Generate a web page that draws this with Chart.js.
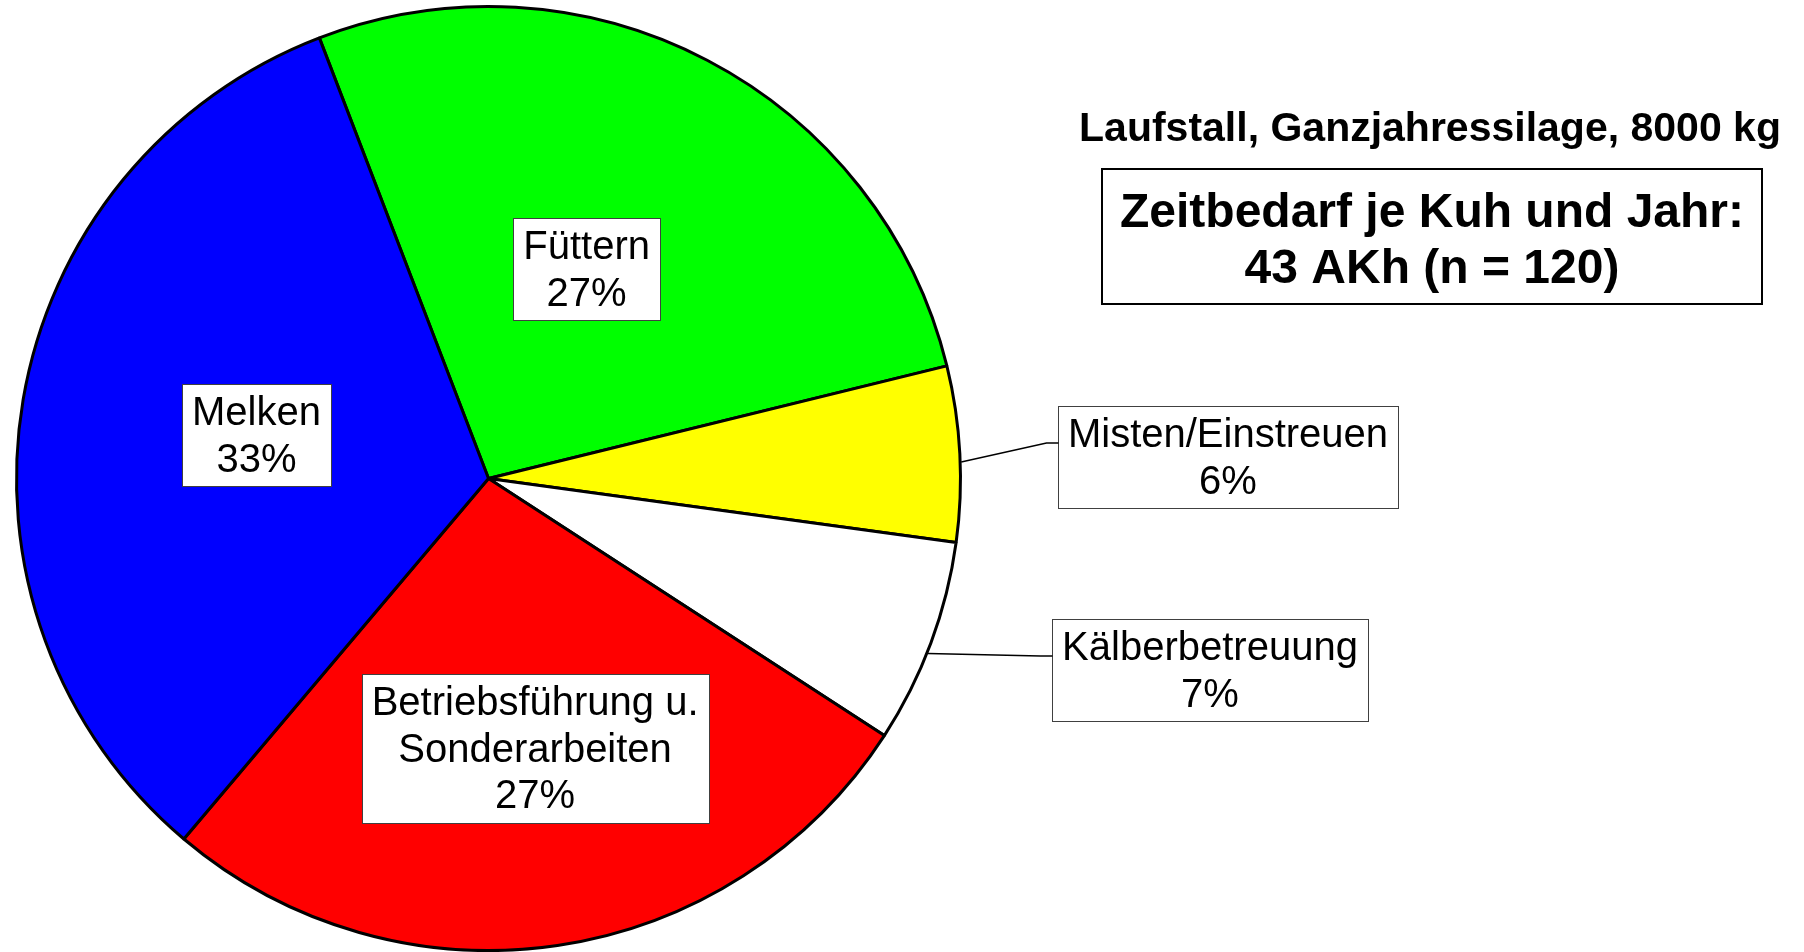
<!DOCTYPE html>
<html>
<head>
<meta charset="UTF-8">
<title>Zeitbedarf Milchviehhaltung</title>
<script src="https://cdn.jsdelivr.net/npm/chart.js@4.4.1/dist/chart.umd.min.js"></script>
<style>
	html, body {
		margin: 0;
		padding: 0;
		background: #ffffff;
		overflow: hidden;
	}
	#container {
		width: 1804px;
		height: 952px;
	}
</style>
</head>
<body>
	<div id="container">
		<canvas id="piecanvas"></canvas>
	</div>
<script>

// Arbeitsbereiche und Anteile in Prozent
var categories = ['Füttern', 'Misten/Einstreuen', 'Kälberbetreuung', ['Betriebsführung u.', 'Sonderarbeiten'], 'Melken'];
var shares = [27, 6, 7, 27, 33];
var sliceColors = ['#00ff00', '#ffff00', '#ffffff', '#ff0000', '#0000ff'];

var titleText = 'Laufstall, Ganzjahressilage, 8000 kg';
var infoLines = ['Zeitbedarf je Kuh und Jahr:', '43 AKh (n = 120)'];

// Beschriftung: innen auf der Segmentmitte (Anteil des Radius, kleine Drehung in Grad),
// außen als Kasten mit Verbindungslinie vom Kreisrand
var labelPlacement = [
	{inside: true, dist: 0.49, turn: -2.5},
	{inside: false, x: 1228, y: 457, turn: 1},
	{inside: false, x: 1210, y: 670, turn: 1.3},
	{inside: true, dist: 0.58, turn: -1.4},
	{inside: true, dist: 0.50, turn: 1}
];

var LABEL_FONT = '40px "Liberation Sans", Arial, sans-serif';
var LINE_H = 46.5;

function labelLines(i) {
	var name = categories[i];
	var lines = Array.isArray(name) ? name.slice() : [name];
	lines.push(shares[i] + '%');
	return lines;
}

function drawBox(ctx, cx, cy, lines) {
	ctx.font = LABEL_FONT;
	var w = 0;
	lines.forEach(function(t) { w = Math.max(w, ctx.measureText(t).width); });
	var bw = Math.round(w + 20);
	var bh = Math.round(lines.length * LINE_H + 9);
	var left = Math.round(cx - bw / 2) + 0.5;
	var top = Math.round(cy - bh / 2) + 0.5;
	ctx.fillStyle = '#ffffff';
	ctx.fillRect(left, top, bw, bh);
	ctx.lineWidth = 1;
	ctx.strokeStyle = '#404040';
	ctx.strokeRect(left, top, bw, bh);
	ctx.fillStyle = '#000000';
	ctx.textAlign = 'center';
	ctx.textBaseline = 'middle';
	lines.forEach(function(t, k) {
		ctx.fillText(t, cx, top + 4.5 + LINE_H * (k + 0.5) + 2);
	});
	return {left: left, top: top, width: bw, height: bh};
}

var sliceLabels = {
	id: 'sliceLabels',
	afterDatasetsDraw: function(chart) {
		var ctx = chart.ctx;
		var arcs = chart.getDatasetMeta(0).data;
		ctx.save();
		arcs.forEach(function(arc, i) {
			var p = arc.getProps(['x', 'y', 'startAngle', 'endAngle', 'outerRadius'], true);
			var place = labelPlacement[i];
			var mid = (p.startAngle + p.endAngle) / 2 + place.turn * Math.PI / 180;
			var lines = labelLines(i);
			if (place.inside) {
				var r = p.outerRadius * place.dist;
				drawBox(ctx, p.x + Math.cos(mid) * r, p.y + Math.sin(mid) * r, lines);
			} else {
				var box = drawBox(ctx, place.x, place.y, lines);
				var sx = p.x + Math.cos(mid) * (p.outerRadius + 1);
				var sy = p.y + Math.sin(mid) * (p.outerRadius + 1);
				var ey = place.y - 14;
				ctx.beginPath();
				ctx.moveTo(sx, sy);
				ctx.lineTo(box.left - 12, ey);
				ctx.lineTo(box.left, ey);
				ctx.lineWidth = 1.5;
				ctx.strokeStyle = '#000000';
				ctx.stroke();
			}
		});
		ctx.restore();
	}
};

function boldText(ctx, text, cx, baseline, size) {
	ctx.font = 'bold ' + size + 'px "Liberation Sans", Arial, sans-serif';
	ctx.textAlign = 'center';
	ctx.textBaseline = 'alphabetic';
	ctx.fillText(text, cx, baseline);
}

// Überschrift und Kasten mit dem Zeitbedarf rechts oben
var headerBlock = {
	id: 'headerBlock',
	afterDraw: function(chart) {
		var ctx = chart.ctx;
		ctx.save();
		ctx.fillStyle = '#000000';
		boldText(ctx, titleText, 1430, 141, 41);
		ctx.lineWidth = 2;
		ctx.strokeStyle = '#000000';
		ctx.strokeRect(1102, 169, 660, 135);
		boldText(ctx, infoLines[0], 1432, 227, 48);
		boldText(ctx, infoLines[1], 1432, 283, 48);
		ctx.restore();
	}
};

window.onload = function() {
	var ctx = document.getElementById('piecanvas').getContext('2d');
	window.myPie = new Chart(ctx, {
		type: 'pie',
		data: {
			labels: categories.map(function(c) { return Array.isArray(c) ? c.join(' ') : c; }),
			datasets: [{
				data: shares,
				backgroundColor: sliceColors,
				borderColor: '#000000',
				borderWidth: 3,
				hoverOffset: 0
			}]
		},
		options: {
			responsive: true,
			maintainAspectRatio: false,
			devicePixelRatio: 1,
			animation: false,
			rotation: -21,
			layout: {padding: {left: 15, right: 842, top: 5, bottom: 0}},
			plugins: {
				legend: {display: false},
				tooltip: {enabled: false},
				title: {display: false}
			}
		},
		plugins: [sliceLabels, headerBlock]
	});
};

</script>
</body>
</html>
